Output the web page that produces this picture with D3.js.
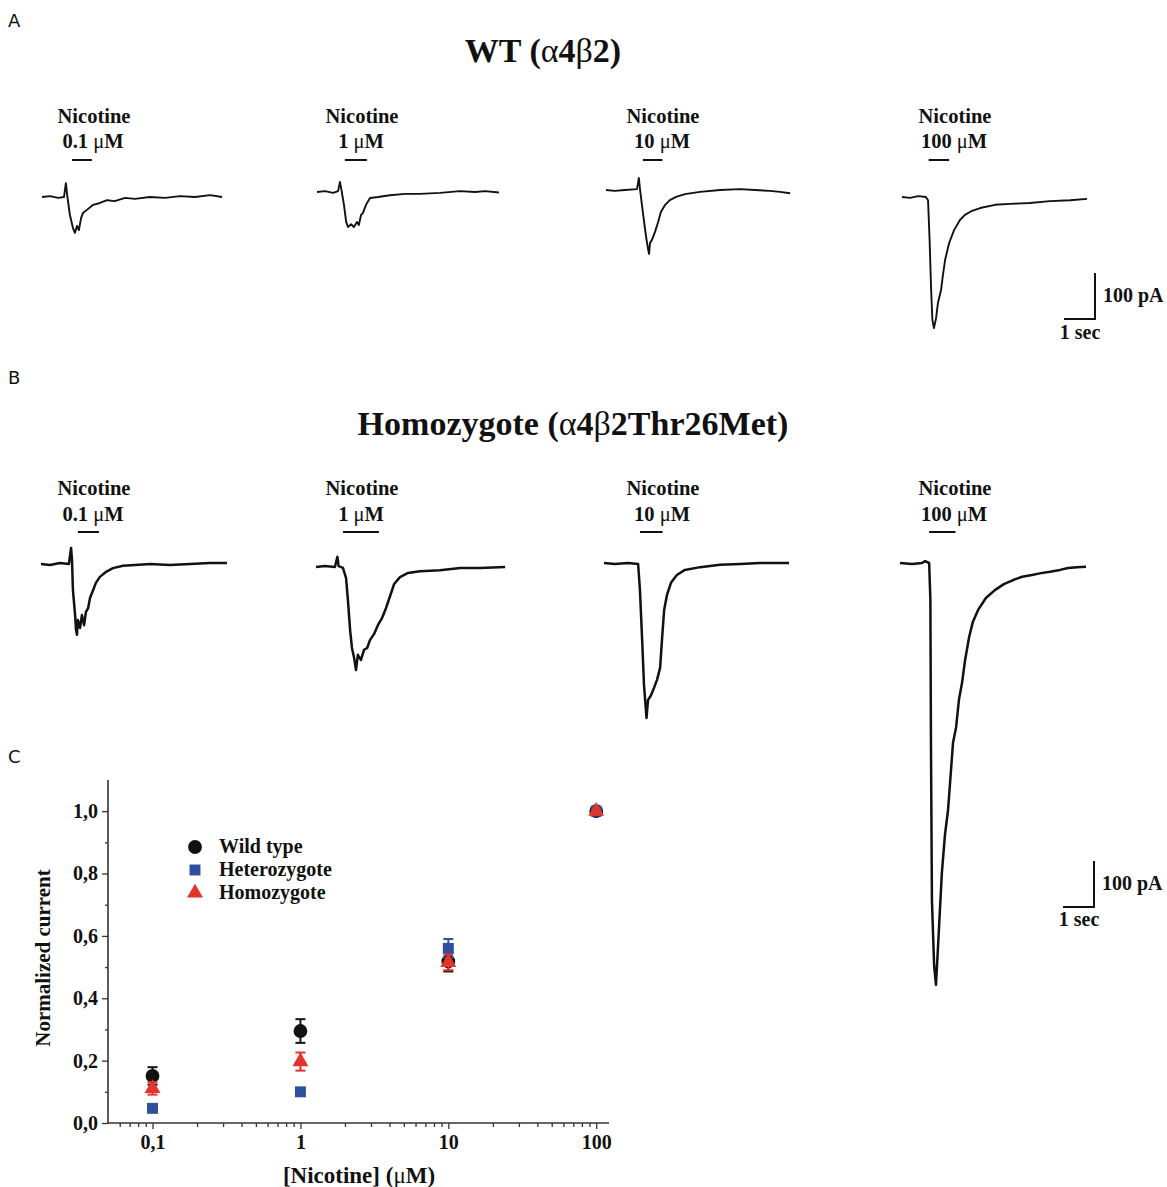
<!DOCTYPE html>
<html><head><meta charset="utf-8">
<script src="https://cdn.jsdelivr.net/npm/d3@7/dist/d3.min.js"></script>
<style>
html,body{margin:0;padding:0;background:#fff;}
svg{display:block;}
.serif{font-family:"Liberation Serif","Times New Roman",serif;font-weight:bold;fill:#111;}
.sans{font-family:"DejaVu Sans","Liberation Sans",Arial,sans-serif;fill:#111;}
</style>
</head><body>
<svg id="fig" width="1167" height="1187"></svg>
<script>
// ---------------- DATA ----------------
const concLabels = ["0.1", "1", "10", "100"];
// traces: [time (s), current (pA)]
const wtTrace01 = [[0,0],[0.26,2],[0.52,-2],[0.71,0],[0.77,30],[0.82,0],[0.90,-39],[0.997,-67],[1.06,-78],[1.13,-63],[1.19,-72],[1.26,-46],[1.32,-35],[1.45,-28],[1.65,-17],[1.87,-13],[2.10,-7],[2.35,-9],[2.68,-2],[3.0,-4],[3.48,0],[3.97,-2],[4.45,2],[4.94,0],[5.42,4],[5.81,0]];
const wtTrace1 = [[0,0],[0.26,2],[0.52,-2],[0.68,2],[0.74,22],[0.79,4],[0.87,-28],[0.94,-65],[1.0,-76],[1.1,-70],[1.19,-76],[1.29,-65],[1.35,-72],[1.42,-50],[1.48,-46],[1.58,-28],[1.71,-13],[1.97,-11],[2.35,-7],[2.84,-4],[3.32,-4],[3.97,-2],[4.61,2],[5.1,0],[5.42,2],[5.87,-1]];
const wtTrace10 = [[0,0],[0.29,-2],[0.61,0],[1.0,2],[1.06,26],[1.1,0],[1.16,-33],[1.23,-70],[1.29,-100],[1.35,-126],[1.39,-139],[1.42,-115],[1.48,-109],[1.58,-91],[1.68,-70],[1.77,-48],[1.9,-33],[2.06,-22],[2.26,-15],[2.55,-9],[3.03,-4],[3.68,0],[4.32,2],[4.81,0],[5.29,-2],[5.61,-4],[5.94,-7]];
const wtTrace100 = [[0,0],[0.26,-2],[0.52,2],[0.77,0],[0.84,-7],[0.89,-93],[0.94,-202],[0.98,-267],[1.03,-285],[1.1,-263],[1.16,-230],[1.26,-202],[1.32,-170],[1.39,-137],[1.52,-100],[1.68,-72],[1.87,-50],[2.03,-39],[2.26,-30],[2.52,-24],[3.0,-17],[3.48,-15],[4.13,-13],[4.77,-9],[5.42,-7],[5.97,-4]];
const homoTrace01 = [[0,0],[0.29,-2],[0.61,2],[0.9,0],[0.97,35],[1.0,9],[1.03,-57],[1.1,-111],[1.13,-143],[1.16,-154],[1.19,-122],[1.26,-139],[1.32,-111],[1.39,-133],[1.45,-104],[1.52,-96],[1.58,-74],[1.68,-57],[1.77,-41],[1.9,-28],[2.1,-17],[2.32,-9],[2.65,-4],[3.03,-2],[3.52,0],[4.16,-2],[4.81,0],[5.45,2],[6.0,2]];
const homoTrace1 = [[0,0],[0.29,2],[0.61,0],[0.69,22],[0.73,2],[0.87,-2],[0.97,-24],[1.03,-72],[1.1,-137],[1.16,-176],[1.23,-198],[1.29,-224],[1.35,-191],[1.45,-202],[1.55,-180],[1.65,-176],[1.74,-159],[1.87,-146],[2.0,-126],[2.13,-111],[2.26,-89],[2.39,-63],[2.52,-37],[2.71,-22],[2.97,-13],[3.35,-9],[4.0,-7],[4.65,-2],[5.29,-2],[6.1,0]];
const homoTrace10 = [[0,0],[0.35,-2],[0.77,0],[1.1,-2],[1.16,-59],[1.23,-167],[1.29,-265],[1.34,-309],[1.37,-337],[1.42,-298],[1.52,-287],[1.61,-272],[1.71,-254],[1.81,-228],[1.87,-167],[1.94,-102],[2.03,-70],[2.16,-43],[2.35,-26],[2.61,-15],[3.1,-9],[3.74,-4],[4.39,-2],[5.03,0],[5.52,0],[5.97,0]];
const homoTrace100 = [[0,0],[0.39,-2],[0.71,0],[0.81,4],[0.94,0],[0.98,-80],[1.0,-407],[1.03,-733],[1.1,-874],[1.16,-917],[1.23,-830],[1.35,-674],[1.45,-591],[1.55,-537],[1.71,-391],[1.81,-357],[1.9,-298],[2.0,-261],[2.1,-211],[2.23,-161],[2.35,-128],[2.52,-102],[2.77,-76],[3.06,-59],[3.35,-46],[3.65,-37],[3.94,-30],[4.26,-26],[4.55,-22],[4.84,-19],[5.16,-15],[5.42,-11],[5.71,-9],[6.0,-8]];
// nicotine application bars (s)
const wtStim = [[0.97,1.61],[0.90,1.61],[1.19,1.82],[0.86,1.52]];
const homoStim = [[1.19,1.87],[0.87,2.03],[1.16,1.89],[0.94,1.79]];
const scaleBarCurrent = 100; // pA
const scaleBarTime = 1;      // s

// dose-response
const doses = [0.1, 1, 10, 100];
const doseTickLabels = ["0,1", "1", "10", "100"];
const yTickValues = [0, 0.2, 0.4, 0.6, 0.8, 1.0];
const seriesNames = ["Wild type", "Heterozygote", "Homozygote"];
const wtMean = [0.151, 0.295, 0.518, 1.0];
const wtErr = [0.028, 0.038, 0.032, 0];
const hetMean = [0.047, 0.100, 0.560, 1.0];
const hetErr = [0.008, 0.008, 0.030, 0];
const homoMean = [0.111, 0.197, 0.515, 1.0];
const homoErr = [0.020, 0.029, 0.025, 0];

// ---------------- DRAW ----------------
const svg = d3.select("#fig");
const tX = d3.scaleLinear().domain([0, 1]).range([0, 31]);      // seconds -> px
const tY = d3.scaleLinear().domain([0, 100]).range([0, -46]);   // pA -> px
const line = d3.line().x(d => tX(d[0])).y(d => tY(d[1]));

// panel letters
[["A", 27], ["B", 384], ["C", 763]].forEach(([t, y]) => {
  svg.append("text").attr("class", "sans").attr("x", 8).attr("y", y).attr("font-size", 18).text(t);
});

// row titles
function title(x, y, parts) {
  const t = svg.append("text").attr("class", "serif").attr("x", x).attr("y", y)
    .attr("text-anchor", "middle").attr("font-size", 34);
  parts.forEach(p => t.append("tspan").attr("font-weight", p[1] ? "normal" : "bold").text(p[0]));
}
title(543, 62, [["WT (", 0], ["α", 1], ["4", 0], ["β", 1], ["2)", 0]]);
title(573, 435, [["Homozygote (", 0], ["α", 1], ["4", 0], ["β", 1], ["2Thr26Met)", 0]]);

const colCenters = [94, 362, 663, 955];
const rows = [
  {traces: [wtTrace01, wtTrace1, wtTrace10, wtTrace100], stim: wtStim,
   x0: [42, 317, 606, 902], base: [197, 192, 190, 197], nicY: 123, concY: 148, barY: 160, sw: 1.9,
   scale: {x: 1095, y: 319, lab1Y: 302, lab2Y: 339}},
  {traces: [homoTrace01, homoTrace1, homoTrace10, homoTrace100], stim: homoStim,
   x0: [41, 316, 604, 900], base: [564, 567, 563, 563], nicY: 495, concY: 521, barY: 532, sw: 2.5,
   scale: {x: 1094, y: 907, lab1Y: 890, lab2Y: 926}}
];

rows.forEach(r => {
  r.traces.forEach((tr, i) => {
    const g = svg.append("g").attr("transform", `translate(${r.x0[i]},${r.base[i]})`);
    g.append("path").datum(tr).attr("d", line).attr("fill", "none")
      .attr("stroke", "#111").attr("stroke-width", r.sw).attr("stroke-linejoin", "round");
    // stim bar
    const s = r.stim[i];
    svg.append("line").attr("x1", r.x0[i] + tX(s[0])).attr("x2", r.x0[i] + tX(s[1]))
      .attr("y1", r.barY).attr("y2", r.barY).attr("stroke", "#111").attr("stroke-width", 2);
    // labels
    svg.append("text").attr("class", "serif").attr("x", colCenters[i]).attr("y", r.nicY)
      .attr("text-anchor", "middle").attr("font-size", 20.5).text("Nicotine");
    const c = svg.append("text").attr("class", "serif").attr("x", colCenters[i] - 1).attr("y", r.concY)
      .attr("text-anchor", "middle").attr("font-size", 20.5);
    c.append("tspan").text(concLabels[i] + " ");
    c.append("tspan").attr("font-weight", "normal").text("μ");
    c.append("tspan").text("M");
  });
  // scale bar
  const sb = r.scale;
  const sg = svg.append("g").attr("transform", `translate(${sb.x},${sb.y})`);
  sg.append("path").attr("d", `M${-tX(scaleBarTime)},0H0V${tY(scaleBarCurrent)}`)
    .attr("fill", "none").attr("stroke", "#111").attr("stroke-width", 2);
  svg.append("text").attr("class", "serif").attr("x", sb.x + 8).attr("y", sb.lab1Y)
    .attr("font-size", 20).text(scaleBarCurrent + " pA");
  svg.append("text").attr("class", "serif").attr("x", sb.x - 15).attr("y", sb.lab2Y)
    .attr("text-anchor", "middle").attr("font-size", 20).text(scaleBarTime + " sec");
});

// ---------- Panel C ----------
const x = d3.scaleLog().domain([0.05, 122]).range([108, 609]);
const y = d3.scaleLinear().domain([0, 1.1]).range([1123, 780]);

// y axis
const yAxis = d3.axisLeft(y).tickValues(yTickValues).tickSize(6).tickPadding(4)
  .tickFormat(d => d3.format(".1f")(d).replace(".", ","));
const yg = svg.append("g").attr("transform", "translate(108,0)").call(yAxis);
const yMinor = d3.axisLeft(y).tickValues([0.1, 0.3, 0.5, 0.7, 0.9]).tickSize(3).tickFormat("");
svg.append("g").attr("transform", "translate(108,0)").call(yMinor).select(".domain").remove();

// x axis
const xAxis = d3.axisBottom(x).tickValues(doses).tickSize(6).tickPadding(6)
  .tickFormat((d, i) => doseTickLabels[i]);
const xg = svg.append("g").attr("transform", "translate(0,1123)").call(xAxis);
const minorVals = [];
[0.01, 0.1, 1, 10].forEach(dec => { for (let k = 2; k <= 9; k++) { const v = dec * k; if (v > 0.05 && v < 122) minorVals.push(v); } });
const xMinor = d3.axisBottom(x).tickValues(minorVals).tickSize(4).tickFormat("");
svg.append("g").attr("transform", "translate(0,1123)").call(xMinor).select(".domain").remove();

svg.selectAll(".domain").attr("stroke", "#333").attr("stroke-width", 1.6);
svg.selectAll(".tick line").attr("stroke", "#333").attr("stroke-width", 1.3);
svg.selectAll(".tick text").attr("class", "serif").attr("font-size", 20).attr("fill", "#111");
yg.selectAll(".domain").attr("d", `M-0,${y(1.1)}V${y(0)}`);
xg.selectAll(".domain").attr("d", `M108,0H609`);

// axis titles
svg.append("text").attr("class", "serif").attr("transform", "translate(50,958) rotate(-90)")
  .attr("text-anchor", "middle").attr("font-size", 21).text("Normalized current");
const xt = svg.append("text").attr("class", "serif").attr("x", 359).attr("y", 1183)
  .attr("text-anchor", "middle").attr("font-size", 23);
xt.append("tspan").text("[Nicotine] (");
xt.append("tspan").attr("font-weight", "normal").text("μ");
xt.append("tspan").text("M)");

const series = [
  {name: seriesNames[0], mean: wtMean, err: wtErr, color: "#111111", sym: d3.symbolCircle, size: 150},
  {name: seriesNames[1], mean: hetMean, err: hetErr, color: "#2f4f9f", sym: d3.symbolSquare, size: 120},
  {name: seriesNames[2], mean: homoMean, err: homoErr, color: "#e2342b", sym: d3.symbolTriangle, size: 110}
];

series.forEach(s => {
  const g = svg.append("g");
  doses.forEach((d, i) => {
    if (s.err[i] > 0) {
      const cx = x(d), y1 = y(s.mean[i] - s.err[i]), y2 = y(s.mean[i] + s.err[i]);
      g.append("line").attr("x1", cx).attr("x2", cx).attr("y1", y1).attr("y2", y2)
        .attr("stroke", s.color).attr("stroke-width", 2);
      [y1, y2].forEach(yy => g.append("line").attr("x1", cx - 5).attr("x2", cx + 5)
        .attr("y1", yy).attr("y2", yy).attr("stroke", s.color).attr("stroke-width", 2));
    }
  });
  g.selectAll("path.pt").data(doses).join("path").attr("class", "pt")
    .attr("d", d3.symbol().type(s.sym).size(s.size))
    .attr("transform", (d, i) => `translate(${x(d)},${y(s.mean[i])})`)
    .attr("fill", s.color);
});

// legend
const legY = [847, 870, 893];
series.forEach((s, i) => {
  svg.append("path").attr("d", d3.symbol().type(s.sym).size(s.size)())
    .attr("transform", `translate(195,${legY[i]})`).attr("fill", s.color);
  svg.append("text").attr("class", "serif").attr("x", 219).attr("y", legY[i] + 6)
    .attr("font-size", 20).text(s.name);
});
</script>
</body></html>
